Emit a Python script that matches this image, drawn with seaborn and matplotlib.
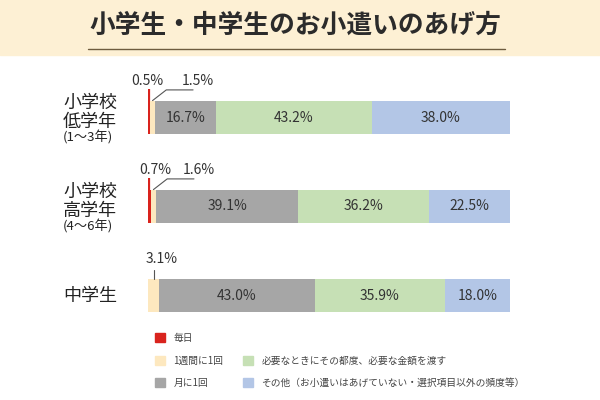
import seaborn as sns
import pandas as pd
import matplotlib.pyplot as plt
from matplotlib.patches import Rectangle, Patch
from matplotlib.lines import Line2D

groups = ['小学校低学年', '小学校高学年', '中学生']
group_labels = ['小学校\n低学年', '小学校\n高学年', '中学生']
group_subs = ['(1〜3年)', '(4〜6年)', '']
answers = ['毎日', '1週間に1回', '月に1回',
           '必要なときにその都度、必要な金額を渡す',
           'その他（お小遣いはあげていない・選択項目以外の頻度等）']
daily = [0.5, 0.7, 0.0]
weekly = [1.5, 1.6, 3.1]
monthly = [16.7, 39.1, 43.0]
as_needed = [43.2, 36.2, 35.9]
other = [38.0, 22.5, 18.0]
colors = ['#d9231d', '#fde8bf', '#a6a6a6', '#c6e0b5', '#b3c6e6']

sns.set_style('white')
plt.rcParams['font.family'] = ['Noto Sans CJK JP', 'DejaVu Sans']

df = pd.DataFrame({'group': groups, 'daily': daily, 'weekly': weekly,
                   'monthly': monthly, 'as_needed': as_needed, 'other': other})
series = ['daily', 'weekly', 'monthly', 'as_needed', 'other']
cum = df[series].cumsum(axis=1)

fig = plt.figure(figsize=(6, 4), dpi=100)

# title band
fig.patches.append(Rectangle((0, 345 / 400), 1, 55 / 400, transform=fig.transFigure,
                             color='#fdf0d4', zorder=0))
fig.lines.append(Line2D([88 / 600, 505 / 600], [351 / 400, 351 / 400],
                        transform=fig.transFigure, color='#6e5c3e', lw=1))
fig.text(0.493, 375 / 400, '小学生・中学生のお小遣いのあげ方', ha='center', va='center',
         fontsize=18.5, fontweight='bold', color='#2b2b2b')

ax = fig.add_axes([148 / 600, 60 / 400, 362 / 600, 267 / 400])

# stacked bars: draw cumulative totals from the back
for s, c in reversed(list(zip(series, colors))):
    sns.barplot(x=cum[s], y=df['group'], order=groups, color=c, saturation=1,
                orient='h', width=0.36, linewidth=0, ax=ax)

ax.set_xlim(0, 100)
ax.set_ylim(2.5, -0.5)
ax.axis('off')

txt = '#333333'
# labels inside the big segments
for s in ['monthly', 'as_needed', 'other']:
    for i in range(len(groups)):
        v = df.loc[i, s]
        ax.text(cum.loc[i, s] - v / 2, i, f'{v:.1f}%', ha='center', va='center',
                fontsize=10, color=txt)

# small segments with leader lines
red_dx = [-0.5, 1.6]
for i in range(2):
    d, w = daily[i], weekly[i]
    ax.plot([d / 2, d / 2], [i - 0.18, i - 0.32], color=colors[0], lw=1.6,
            solid_capstyle='butt')
    ax.text(d / 2 + red_dx[i], i - 0.41, f'{d:.1f}%', ha='center', va='center',
            fontsize=10, color=txt)
    x0 = d + w / 2
    ax.plot([x0, x0 + 3.8, x0 + 11.2], [i - 0.19, i - 0.31, i - 0.31],
            color='#555555', lw=0.8)
    ax.text(x0 + 12.5, i - 0.41, f'{w:.1f}%', ha='center', va='center',
            fontsize=10, color=txt)

x0 = daily[2] + weekly[2] / 2
ax.plot([x0, x0], [2 - 0.18, 2 - 0.29], color='#555555', lw=0.8)
ax.text(x0 + 2.1, 2 - 0.41, f'{weekly[2]:.1f}%', ha='center', va='center',
        fontsize=10, color=txt)

# group names on the left
for i in range(len(groups)):
    if group_subs[i]:
        ax.text(-0.235, i - 0.06, group_labels[i], transform=ax.get_yaxis_transform(),
                ha='left', va='center', fontsize=13, linespacing=1.05, color='#222222')
        ax.text(-0.235, i + 0.23, group_subs[i], transform=ax.get_yaxis_transform(),
                ha='left', va='center', fontsize=9.5, color='#222222')
    else:
        ax.text(-0.235, i, group_labels[i], transform=ax.get_yaxis_transform(),
                ha='left', va='center', fontsize=13, color='#222222')

# legend, second column starts one row lower
handles = [Patch(color=c) for c in colors]
handles.insert(3, Patch(alpha=0))
labels = answers[:3] + [''] + answers[3:]
fig.legend(handles, labels, ncol=2, loc='upper left',
           bbox_to_anchor=(150 / 600, 72 / 400), frameon=False, fontsize=7,
           handlelength=1, handleheight=1, handletextpad=0.9, columnspacing=2.0,
           labelspacing=1.3, borderpad=0, labelcolor='#444444')

fig.savefig('out.png', dpi=100)
